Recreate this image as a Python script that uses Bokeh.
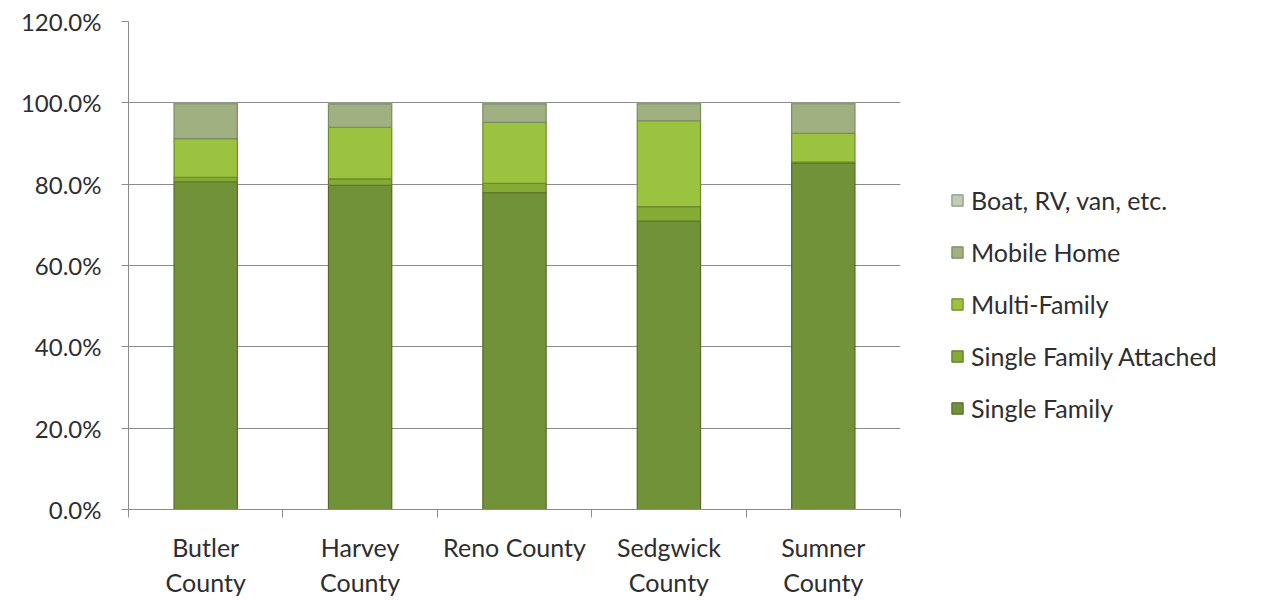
import numpy as np
from bokeh.plotting import figure
from bokeh.models import (FixedTicker, NumeralTickFormatter, Legend, LegendItem,
                          ColumnDataSource, Range1d)
from bokeh.embed import file_html
from bokeh.resources import INLINE

# ---- data ----
categories = ["Butler\nCounty", "Harvey\nCounty", "Reno County", "Sedgwick\nCounty", "Sumner\nCounty"]
series_names = ["Single Family", "Single Family Attached", "Multi-Family", "Mobile Home", "Boat, RV, van, etc."]
single_family = [0.806, 0.797, 0.779, 0.709, 0.851]
single_family_attached = [0.011, 0.016, 0.023, 0.036, 0.003]
multi_family = [0.095, 0.127, 0.150, 0.211, 0.071]
mobile_home = [0.086, 0.057, 0.045, 0.042, 0.073]
boat_rv = [0.002, 0.003, 0.003, 0.002, 0.002]
y_ticks = [0.0, 0.2, 0.4, 0.6, 0.8, 1.0, 1.2]

colors = ["#72923A", "#86AA36", "#9CC33F", "#A0B080", "#C3CAB6"]
line_cols = ["#55692A", "#5E7A25", "#6C8A2C", "#7A8A62", "#8E9682"]

FONT = "Lato"
TXT = "#2E2E2E"
AXC = "#8C8C8C"

x = (np.arange(len(categories)) + 0.5).tolist()
data = dict(x=x)
keys = ["sf", "sfa", "mf", "mh", "boat"]
for k, v in zip(keys, [single_family, single_family_attached, multi_family, mobile_home, boat_rv]):
    data[k] = v
src = ColumnDataSource(data)

p = figure(frame_width=772, frame_height=488, output_backend="svg", toolbar_location=None,
           x_range=Range1d(0, len(categories)), y_range=Range1d(0, 1.2),
           min_border_left=128, min_border_right=0, min_border_top=21, min_border_bottom=70)
p.outline_line_color = None
p.background_fill_color = "white"
p.border_fill_color = "white"

renderers = p.vbar_stack(keys, x="x", width=0.41, source=src, color=colors,
                         line_color=line_cols, line_width=1.2)

# y axis
p.yaxis.ticker = FixedTicker(ticks=y_ticks, minor_ticks=[])
p.yaxis.formatter = NumeralTickFormatter(format="0.0%")
p.yaxis.axis_line_color = AXC
p.yaxis.major_tick_line_color = AXC
p.yaxis.major_tick_out = 7
p.yaxis.major_tick_in = 0
p.yaxis.minor_tick_line_color = None
p.yaxis.major_label_text_font = FONT
p.yaxis.major_label_text_font_size = "24px"
p.yaxis.major_label_text_color = TXT
p.yaxis.major_label_standoff = 20

# x axis
p.xaxis.ticker = FixedTicker(ticks=x, minor_ticks=list(range(len(categories) + 1)))
p.xaxis.major_label_overrides = {xi: c for xi, c in zip(x, categories)}
p.xaxis.axis_line_color = AXC
p.xaxis.major_tick_line_color = None
p.xaxis.major_tick_out = 0
p.xaxis.major_tick_in = 0
p.xaxis.minor_tick_line_color = AXC
p.xaxis.minor_tick_out = 8
p.xaxis.minor_tick_in = 0
p.xaxis.major_label_text_font = FONT
p.xaxis.major_label_text_font_size = "25px"
p.xaxis.major_label_text_color = TXT
p.xaxis.major_label_text_line_height = 1.17
p.xaxis.major_label_standoff = 14

p.xgrid.grid_line_color = None
p.ygrid.ticker = FixedTicker(ticks=y_ticks)
p.ygrid.grid_line_color = AXC
p.ygrid.grid_line_width = 1

items = [LegendItem(label=n, renderers=[r]) for n, r in zip(series_names, renderers)]
items = items[::-1]
legend = Legend(items=items, location=(50, 86), orientation="vertical",
                label_text_font=FONT, label_text_font_size="25px", label_text_color=TXT,
                glyph_width=14, glyph_height=14, label_standoff=7, spacing=22,
                label_height=29, padding=0, margin=0,
                border_line_color=None, background_fill_alpha=0)
p.add_layout(legend, "right")

open("out.html", "w").write(file_html(p, INLINE))
